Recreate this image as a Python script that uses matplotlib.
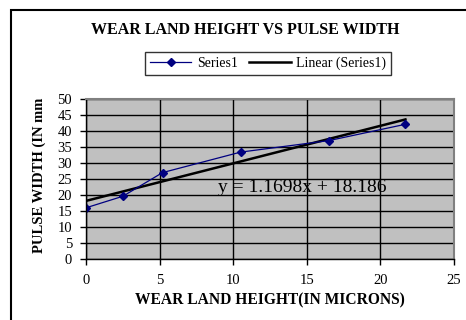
import numpy as np
import matplotlib.pyplot as plt
from matplotlib.patches import Rectangle

# datos
altura = [0, 2.5, 5.2, 10.5, 16.5, 21.7]
pulso = [16, 19.6, 27, 33.4, 37, 42.1]
ecuacion = "y = 1.1698x + 18.186"

plt.rcParams['font.family'] = ['Liberation Serif', 'DejaVu Serif']

fig = plt.figure(figsize=(4.66, 3.2), dpi=100)
W, H = 466, 320

# marco exterior
fig.patches.append(Rectangle((11 / W, 1 - 330 / H), 470 / W, 320 / H,
                             transform=fig.transFigure, fill=False,
                             edgecolor='black', linewidth=1.5))

ax = fig.add_axes([86 / W, 1 - 259 / H, (454 - 86) / W, (259 - 99) / H])
ax.set_facecolor('#C0C0C0')

# linea de tendencia
m, b = np.polyfit(altura, pulso, 1)
xt = np.array([0, max(altura)])
ax.plot(xt, m * xt + b, color='black', linewidth=1.8, label='Linear (Series1)')
ax.plot(altura, pulso, color='#000080', linewidth=0.9, marker='D', markersize=4.5,
        label='Series1')

ax.set_xlim(0, 25)
ax.set_ylim(0, 50)
ax.set_xticks(range(0, 26, 5))
ax.set_yticks(range(0, 51, 5))
ax.grid(True, color='black', linewidth=1)
ax.set_axisbelow(True)
ax.tick_params(direction='out', length=4, width=1, labelsize=10.5, pad=6)
ax.tick_params(axis='x', pad=7)

for lado in ['top', 'right']:
    ax.spines[lado].set_color('#808080')
    ax.spines[lado].set_linewidth(1.5)
for lado in ['left', 'bottom']:
    ax.spines[lado].set_color('black')
    ax.spines[lado].set_linewidth(1)

ax.text(9, 22.2, ecuacion, fontsize=14, va='center', ha='left')

h, l = ax.get_legend_handles_labels()
leg = fig.legend(h[::-1], l[::-1], loc='center', bbox_to_anchor=(268 / W, 1 - 63.5 / H),
                 ncol=2, frameon=True, fancybox=False, edgecolor='black',
                 fontsize=10, handlelength=3, columnspacing=0.8, borderpad=0.35,
                 handletextpad=0.4)
leg.get_frame().set_linewidth(1)

fig.text(245 / W, 1 - 30 / H, "WEAR LAND HEIGHT VS PULSE WIDTH", ha='center',
         va='center', fontsize=11.5, fontweight='bold')
fig.text(270 / W, 1 - 300 / H, "WEAR LAND HEIGHT(IN MICRONS)", ha='center',
         va='center', fontsize=11.2, fontweight='bold')
fig.text(39 / W, 1 - 175 / H, "PULSE WIDTH (IN mm", ha='center', va='center',
         rotation=90, fontsize=10.5, fontweight='bold')

fig.savefig('out.png', dpi=100)
